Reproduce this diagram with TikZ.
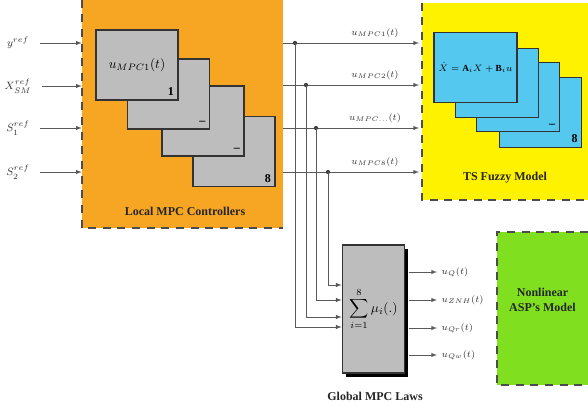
\documentclass[tikz,border=0pt]{standalone}
\usepackage{fontspec}
\setmainfont{Liberation Serif}
\usetikzlibrary{arrows, positioning}

\definecolor{mpcorange}{HTML}{F7A624}
\definecolor{tsyellow}{HTML}{FFF200}
\definecolor{aspgreen}{HTML}{80E020}
\definecolor{fuzzycyan}{HTML}{55C8F0}
\definecolor{blockgray}{HTML}{BDBDBD}

\begin{document}
\begin{tikzpicture}[x=0.75pt, y=-0.75pt, >=latex]
    \tikzset{
        sig/.style={->, draw=black!65, line width=0.5pt},
        area/.style={rectangle, inner sep=0pt},
        border/.style={draw=black!70, line width=1.3pt, dash pattern=on 6pt off 5pt},
        ctrl/.style={rectangle, draw=black!80, line width=0.9pt, fill=blockgray, minimum width=61.5pt, minimum height=52.5pt},
        fuzzy/.style={rectangle, draw=black!80, line width=0.9pt, fill=fuzzycyan, minimum width=62pt, minimum height=52pt},
        title/.style={font=\small\bfseries, text=black!85, align=center},
        sigtext/.style={font=\scriptsize, text=black!80}
    }
    \useasboundingbox (0,0) rectangle (588,408);

    % areas
    \node (local) [area, fill=mpcorange, minimum width=150.75pt, minimum height=171pt] at (182.5,114) {};
    \node (tsarea) [area, fill=tsyellow, minimum width=124.5pt, minimum height=147.75pt] at (505,101.5) {};
    \node (asparea) [area, fill=aspgreen, minimum width=68.25pt, minimum height=114.75pt] at (542.5,308.5) {};
    \draw [border] (local.north west) -- (local.south west) -- (local.south east);
    \draw [border] (tsarea.north west) -- (tsarea.south west) -- (tsarea.south east);
    \draw [border] (asparea.north east) -- (asparea.north west) -- (asparea.south west) -- (asparea.south east);

    % local controllers
    \node (mpc4) [ctrl] at (234,151.5) {};
    \node (mpc3) [ctrl] at (203,121) {};
    \node (mpc2) [ctrl] at (168.5,94) {};
    \node (mpc1) [ctrl] at (137,65) {$u_{MPC1}(t)$};
    \node (num1) [anchor=south east, font=\small\bfseries] at (mpc1.south east) {1};
    \node (num2) [anchor=south east, font=\small\bfseries] at (mpc2.south east) {--};
    \node (num3) [anchor=south east, font=\small\bfseries] at (mpc3.south east) {--};
    \node (num4) [anchor=south east, font=\small\bfseries] at (mpc4.south east) {8};
    \node (localtitle) [title] at (185,211) {Local MPC Controllers};

    % TS fuzzy model
    \node (ts4) [fuzzy] at (540.5,112.5) {};
    \node (ts3) [fuzzy] at (518,97) {};
    \node (ts2) [fuzzy] at (497,83) {};
    \node (ts1) [fuzzy, font=\scriptsize] at (475.5,67.5) {$\dot{X}=\mathbf{A}_iX+\mathbf{B}_iu$};
    \node (tsnum3) [anchor=south east, font=\small\bfseries] at (ts3.south east) {--};
    \node (tsnum4) [anchor=south east, font=\small\bfseries] at (ts4.south east) {8};
    \node (tstitle) [title] at (505,178) {TS Fuzzy Model};

    % global laws
    \node (gshadow) [rectangle, fill=black, minimum width=47pt, minimum height=96pt] at (377,313) {};
    \node (gsum) [rectangle, draw=black!80, line width=0.8pt, fill=blockgray, minimum width=47pt, minimum height=96pt] at (373.5,309) {$\displaystyle\sum_{i=1}^{8}\mu_i(.)$};
    \node (gtitle) [title] at (375,396) {Global MPC Laws};

    \node (asptitle) [title] at (542.5,300) {Nonlinear\\ASP's Model};

    % inputs
    \node (in1) [sigtext, font=\footnotesize] at (18,43) {$y^{ref}$};
    \node (in2) [sigtext, font=\footnotesize] at (18,86) {$X_{SM}^{ref}$};
    \node (in3) [sigtext, font=\footnotesize] at (18,128) {$S_1^{ref}$};
    \node (in4) [sigtext, font=\footnotesize] at (18,172) {$S_2^{ref}$};
    \foreach \i in {1,...,4}
        \draw [sig] (in\i.east) ++(6,0) -- (in\i -| local.west);

    % local outputs
    \coordinate (j1) at (295,43);
    \coordinate (j2) at (306,85);
    \coordinate (j3) at (316,128);
    \coordinate (j4) at (328,172);
    \foreach \i in {1,...,4} {
        \draw [sig] (local.east |- j\i) -- ([xshift=-2pt]tsarea.west |- j\i);
        \fill [black!75] (j\i) circle (1.6pt);
    }
    \node (u1) [sigtext] at (375,33) {$u_{MPC1}(t)$};
    \node (u2) [sigtext] at (375,75) {$u_{MPC2}(t)$};
    \node (u3) [sigtext] at (375,118) {$u_{MPC\ldots}(t)$};
    \node (u4) [sigtext] at (375,162) {$u_{MPC8}(t)$};

    % to global laws
    \coordinate (gin1) at (gsum.west |- 0,285);
    \coordinate (gin2) at (gsum.west |- 0,300);
    \coordinate (gin3) at (gsum.west |- 0,317);
    \coordinate (gin4) at (gsum.west |- 0,327);
    \draw [sig] (j4) |- (gin1);
    \draw [sig] (j3) |- (gin2);
    \draw [sig] (j2) |- (gin3);
    \draw [sig] (j1) |- (gin4);

    % global outputs
    \coordinate (go1) at (437,272);
    \coordinate (go2) at (437,300);
    \coordinate (go3) at (437,328);
    \coordinate (go4) at (437,355);
    \foreach \i in {1,...,4}
        \draw [sig] (gshadow.east |- go\i) -- (go\i);
    \node (y1) [sigtext, anchor=west] at (go1) {$u_{Q}(t)$};
    \node (y2) [sigtext, anchor=west] at (go2) {$u_{ZNH}(t)$};
    \node (y3) [sigtext, anchor=west] at (go3) {$u_{Qr}(t)$};
    \node (y4) [sigtext, anchor=west] at (go4) {$u_{Qw}(t)$};
\end{tikzpicture}
\end{document}
